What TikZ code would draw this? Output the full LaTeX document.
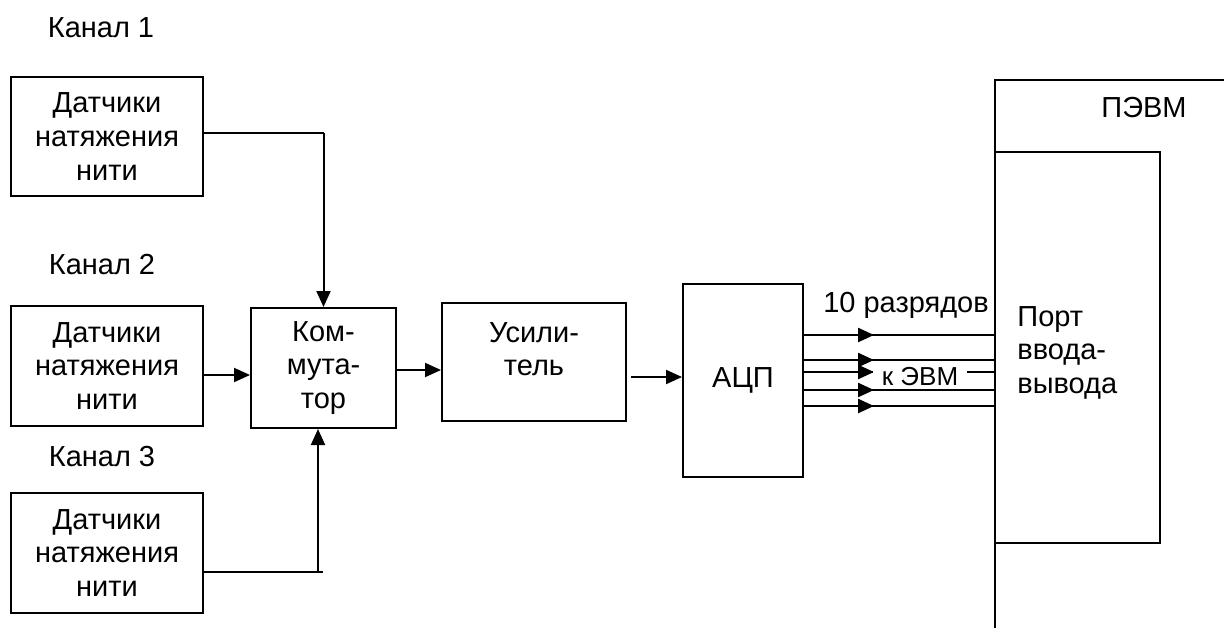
\documentclass[tikz,border=0pt]{standalone}
\usepackage{fontspec}
\setmainfont{Liberation Sans}
\usetikzlibrary{arrows.meta,decorations.markings}
\begin{document}
\begin{tikzpicture}[x=0.5pt,y=-0.5pt,
  blk/.style={draw,line width=1pt,inner sep=0pt},
  txt/.style={font=\fontsize{14.5}{16.8}\selectfont,align=center,inner sep=0pt},
  arr/.style={-{Triangle[length=8pt,width=7pt]},line width=1pt},
  bus/.style={line width=1.2pt,postaction={decorate},
    decoration={markings,mark=at position 35pt with {\arrow{Triangle[length=8pt,width=7pt]}}}}]
\useasboundingbox (0,0) rectangle (1224,628);

% channel labels
\node[txt] (k1) at (101,28) {Канал 1};
\node[txt] (k2) at (102,265) {Канал 2};
\node[txt] (k3) at (102,457) {Канал 3};

% sensors
\node[blk,txt,minimum width=96pt,minimum height=59.5pt] (s1) at (107,136.5) {Датчики\\натяжения\\нити};
\node[blk,txt,minimum width=96pt,minimum height=60pt] (s2) at (107,366) {Датчики\\натяжения\\нити};
\node[blk,txt,minimum width=96pt,minimum height=60pt] (s3) at (107,553) {Датчики\\натяжения\\нити};

% commutator
\node[blk,txt,minimum width=72.5pt,minimum height=60pt] (comm) at (323.5,368) {Ком-\\мута-\\тор};

% amplifier
\node[blk,minimum width=92pt,minimum height=59pt] (usil) at (534,362) {};
\node[txt] (usiltxt) at (534,349) {Усили-\\тель};

% ADC
\node[blk,txt,minimum width=60pt,minimum height=96.5pt] (adc) at (743,380.5) {АЦП};

% PC
\draw[line width=0.8pt] (995,628) -- (995,80) -- (1224,80);
\node[txt] (pc) at (1144,108) {ПЭВМ};
\node[draw,line width=0.8pt,inner sep=0pt,minimum width=82.5pt,minimum height=195.5pt] (port) at (1077.5,347.5) {};
\node[txt,align=left,anchor=north west] (porttxt) at (1017,306) {Порт\\ввода-\\вывода};

% connectors
\coordinate (c1) at (323.5,133);
\draw[line width=1pt] (s1.east |- c1) -- (c1);
\draw[arr] (c1) -- (comm.north);
\coordinate (c2) at (0,375);
\draw[arr] (s2.east |- c2) -- (comm.west |- c2);
\coordinate (c3b) at (323,572);
\coordinate (c3v) at (318,572);
\draw[line width=1pt] (s3.east |- c3b) -- (c3b);
\draw[arr] (c3v) -- (comm.south -| c3v);
\coordinate (c4) at (0,370);
\draw[arr] (comm.east |- c4) -- (usil.west |- c4);
\coordinate (c5) at (631,377);
\draw[arr] (c5) -- (adc.west |- c5);

\foreach \yy [count=\i] in {335,360,372,390,406} {
  \coordinate (b\i) at (0,\yy);
  \draw[bus] (adc.east |- b\i) -- (port.west |- b\i);
}

\node[txt] (bits) at (906,305) {10 разрядов};
\node[font=\fontsize{13}{15}\selectfont,fill=white,inner xsep=4.3pt,inner ysep=1pt] (toevm) at (920,377) {к ЭВМ};
\end{tikzpicture}
\end{document}
